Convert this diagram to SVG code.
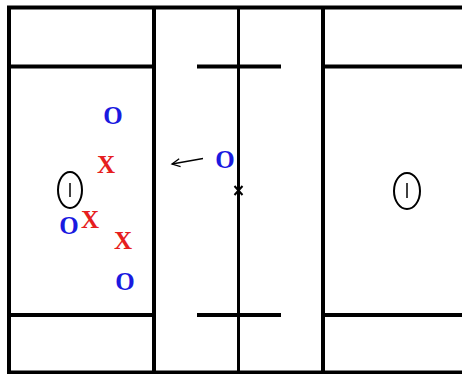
<svg xmlns="http://www.w3.org/2000/svg" width="462" height="374" viewBox="0 0 462 374">
<defs>
<style>
.ln{stroke:#000;stroke-width:4;fill:none}
.goal{stroke:#000;stroke-width:2;fill:none}
.p{font-family:"Liberation Serif","Times New Roman",serif;font-weight:bold;font-size:25px;text-anchor:middle}
.o{fill:#1a1ae0}
.x{fill:#e61e1e}
</style>
<marker id="ah" markerWidth="12" markerHeight="12" refX="10" refY="5" orient="auto" markerUnits="userSpaceOnUse">
<path d="M2,1 L10,5 L2,9" fill="none" stroke="#000" stroke-width="1.3"/>
</marker>
</defs>
<rect width="462" height="374" fill="#fff"/>
<g id="field">
<rect class="ln" x="9" y="7.5" width="460" height="365"/>
<line class="ln" x1="9" y1="66.5" x2="154" y2="66.5"/>
<line class="ln" x1="9" y1="315" x2="154" y2="315"/>
<line class="ln" x1="154" y1="7.5" x2="154" y2="374"/>
<line class="ln" x1="323" y1="7.5" x2="323" y2="374"/>
<line class="ln" x1="323" y1="66.5" x2="462" y2="66.5"/>
<line class="ln" x1="323" y1="315" x2="462" y2="315"/>
<line class="ln" x1="197" y1="66.5" x2="281" y2="66.5"/>
<line class="ln" x1="197" y1="315" x2="281" y2="315"/>
<line x1="238.5" y1="7.5" x2="238.5" y2="374" stroke="#000" stroke-width="3"/>
</g>
<g id="goal-left">
<ellipse class="goal" cx="70" cy="190" rx="12" ry="18"/>
<line x1="70" y1="183" x2="70" y2="197" stroke="#000" stroke-width="1.5"/>
</g>
<g id="goal-right">
<ellipse class="goal" cx="407" cy="191" rx="13" ry="18"/>
<line x1="407" y1="183" x2="407" y2="198" stroke="#000" stroke-width="1.5"/>
</g>
<g id="faceoff-x">
<path d="M234.5,186 L242.5,195 M242.5,186 L234.5,195" stroke="#000" stroke-width="2" fill="none"/>
</g>
<g id="o1"><text class="p o" x="113" y="124">O</text></g>
<g id="x1"><text class="p x" x="106" y="173">X</text></g>
<g id="o2"><text class="p o" x="225" y="168">O</text></g>
<g id="o3"><text class="p o" x="69" y="234">O</text></g>
<g id="x2"><text class="p x" x="90" y="228">X</text></g>
<g id="x3"><text class="p x" x="123" y="249">X</text></g>
<g id="o4"><text class="p o" x="125" y="290">O</text></g>
<g id="connectors">
<line x1="203" y1="158.5" x2="172" y2="164" stroke="#000" stroke-width="1.3" marker-end="url(#ah)"/>
</g>
</svg>
